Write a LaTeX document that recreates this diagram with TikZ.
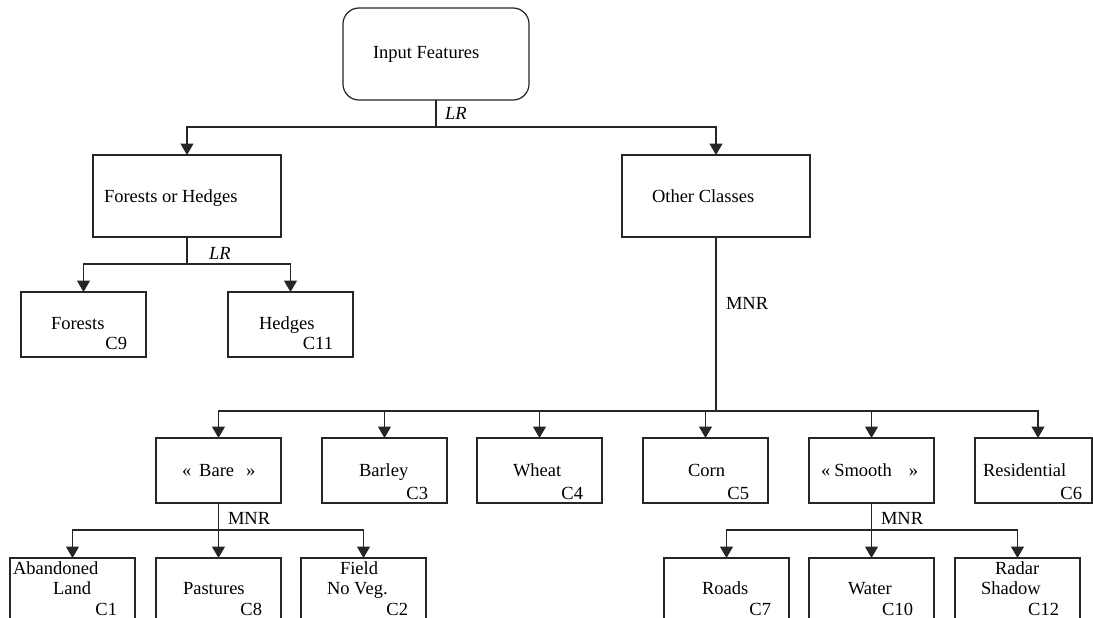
\documentclass[tikz,border=0pt]{standalone}
\usepackage{fontspec}
\setmainfont{Liberation Serif}
\usetikzlibrary{arrows.meta}
\begin{document}
\begin{tikzpicture}[x=1pt,y=-1pt,
  font=\fontsize{18.5}{22}\selectfont,
  ln/.style={line width=1.2pt, draw=black!85},
  arr/.style={ln, -{Triangle[length=11.5pt,width=13pt]}},
  box/.style={draw=black!85, line width=1.2pt, minimum width=125pt, minimum height=65pt, inner sep=0pt, outer sep=0pt, anchor=north west},
  bigbox/.style={box, minimum width=188pt, minimum height=82pt},
  lbl/.style={inner sep=0pt, outer sep=0pt, anchor=mid west, yshift=-2.5pt}
]
\useasboundingbox (0,0) rectangle (1093,618);
\fill[white] (0,0) rectangle (1093,618);
\clip (0,0) rectangle (1093,618);

% ---------- boxes ----------
\node[box, rounded corners=16pt, minimum width=186pt, minimum height=92pt] (inp) at (343,8) {};
\node[bigbox] (foh) at (93,155) {};
\node[bigbox] (oth) at (622,155) {};
\node[box] (for) at (21,292) {};
\node[box] (hed) at (228,292) {};
\node[box] (bare) at (156,438) {};
\node[box] (bar) at (322,438) {};
\node[box] (whe) at (477,438) {};
\node[box] (cor) at (643,438) {};
\node[box] (smo) at (809,438) {};
\node[box, minimum width=117pt] (res) at (975,438) {};
\node[box] (aba) at (10,558) {};
\node[box] (pas) at (156,558) {};
\node[box] (fie) at (301,558) {};
\node[box] (roa) at (664,558) {};
\node[box] (wat) at (809,558) {};
\node[box] (rad) at (955,558) {};

% ---------- texts ----------
\node[lbl] (tinp) at (373,54) {Input Features};
\node[lbl] (tfoh) at (104,198) {Forests or Hedges};
\node[lbl] (toth) at (652,198) {Other Classes};
\node[lbl] (lr1) at (445,115) {\textit{LR}};
\node[lbl] (lr2) at (209,255) {\textit{LR}};
\node[lbl] (mnr1) at (726,305) {MNR};
\node[lbl] (mnr2) at (228,520) {MNR};
\node[lbl] (mnr3) at (881,520) {MNR};

\node[lbl] (tfor) at (51,325) {Forests};
\node[lbl, anchor=mid east] (cfor) at (127,345) {C9};
\node[lbl] (thed) at (259,325) {Hedges};
\node[lbl, anchor=mid east] (ched) at (333,345) {C11};

\node[lbl] (tbare) at (182,472) {«\hspace{8pt}Bare\hspace{12pt}»};
\node[lbl] (tbar) at (359,472) {Barley};
\node[lbl, anchor=mid east] (cbar) at (428,495) {C3};
\node[lbl] (twhe) at (513,472) {Wheat};
\node[lbl, anchor=mid east] (cwhe) at (583,495) {C4};
\node[lbl] (tcor) at (688,472) {Corn};
\node[lbl, anchor=mid east] (ccor) at (749,495) {C5};
\node[lbl] (tsmo) at (821,472) {«\hspace{4pt}Smooth\hspace{17pt}»};
\node[lbl] (tres) at (983,472) {Residential};
\node[lbl, anchor=mid east] (cres) at (1082,495) {C6};

\node[lbl] (taba1) at (13,570) {Abandoned};
\node[lbl] (taba2) at (53,590) {Land};
\node[lbl, anchor=mid east] (caba) at (117,611) {C1};
\node[lbl] (tpas) at (183,590) {Pastures};
\node[lbl, anchor=mid east] (cpas) at (262,611) {C8};
\node[lbl] (tfie1) at (340,570) {Field};
\node[lbl] (tfie2) at (327,590) {No Veg.};
\node[lbl, anchor=mid east] (cfie) at (408,611) {C2};
\node[lbl] (troa) at (702,590) {Roads};
\node[lbl, anchor=mid east] (croa) at (771,611) {C7};
\node[lbl] (twat) at (848,590) {Water};
\node[lbl, anchor=mid east] (cwat) at (913,611) {C10};
\node[lbl] (trad1) at (995,570) {Radar};
\node[lbl] (trad2) at (981,590) {Shadow};
\node[lbl, anchor=mid east] (crad) at (1059,611) {C12};

% ---------- connectors ----------
\coordinate (j0) at (436,127);
\draw[ln] (inp.south) -- (j0);
\draw[arr] (j0) -| (foh.north);
\draw[arr] (j0) -| (oth.north);

\coordinate (j1) at (187,264);
\draw[ln] (foh.south) -- (j1);
\draw[arr] (j1) -| (for.north);
\draw[arr] (j1) -| (hed.north);

\coordinate (j2) at (716,411);
\draw[ln] (oth.south) -- (j2);
\draw[arr] (j2) -| (bare.north);
\draw[arr] (j2) -| (bar.north);
\draw[arr] (j2) -| (whe.north);
\draw[arr] (j2) -| (cor.north);
\draw[arr] (j2) -| (smo.north);
\draw[arr] (j2) -| ([xshift=4.5pt]res.north);

\coordinate (j3) at (218.5,530);
\draw[ln] (bare.south) -- (j3);
\draw[arr] (j3) -| (aba.north);
\draw[arr] (j3) -- (pas.north);
\draw[arr] (j3) -| (fie.north);

\coordinate (j4) at (871.5,530);
\draw[ln] (smo.south) -- (j4);
\draw[arr] (j4) -| (roa.north);
\draw[arr] (j4) -- (wat.north);
\draw[arr] (j4) -| (rad.north);
\end{tikzpicture}
\end{document}
